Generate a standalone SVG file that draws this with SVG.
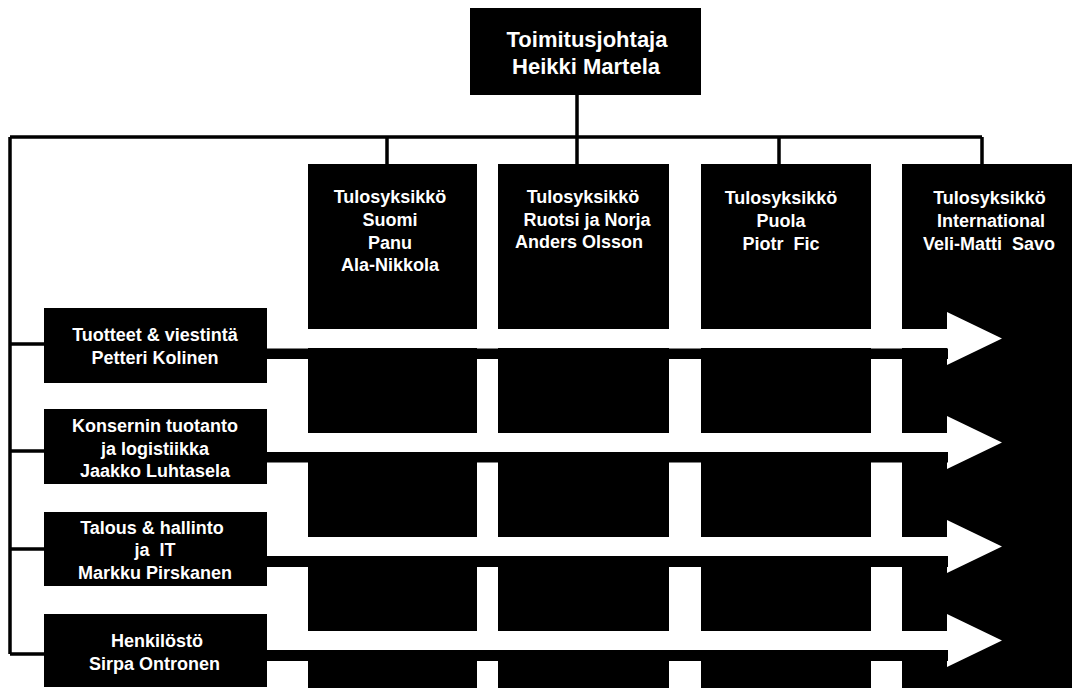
<svg xmlns="http://www.w3.org/2000/svg" width="1076" height="692" viewBox="0 0 1076 692">
<style>
.box{fill:#000}
.t{fill:#fff;font-family:"Liberation Sans",Arial,Helvetica,sans-serif;font-weight:bold;font-size:18px;text-anchor:middle}
.tb{font-size:22px}
.ln{stroke:#000;stroke-width:3.5;fill:none}
.arr{fill:#fff}
.bar{fill:#000}
</style>
<rect width="1076" height="692" fill="#fff"/>
<g id="connectors">
<path class="ln" d="M577,95V137 M10,137H982 M387,137V165 M577,137V165 M779,137V165 M982,137V165 M10,137V654 M10,344H45 M10,451H45 M10,549H45 M10,654H45"/>
</g>
<g id="col1"><rect class="box" x="308" y="164" width="169" height="524"/>
<text class="t" x="390" y="203">Tulosyksikkö</text><text class="t" x="390" y="226">Suomi</text><text class="t" x="390" y="248.5">Panu</text><text class="t" x="390" y="271">Ala-Nikkola</text></g>
<g id="col2"><rect class="box" x="498" y="164" width="171" height="524"/>
<text class="t" x="583" y="203">Tulosyksikkö</text><text class="t" x="587" y="225.5">Ruotsi ja Norja</text><text class="t" x="579" y="247.5">Anders Olsson</text></g>
<g id="col3"><rect class="box" x="701" y="164" width="170" height="524"/>
<text class="t" x="781" y="204">Tulosyksikkö</text><text class="t" x="781" y="227">Puola</text><text class="t" x="781" y="249.5" xml:space="preserve">Piotr  Fic</text></g>
<g id="col4"><rect class="box" x="902" y="164" width="170" height="524"/>
<text class="t" x="989.5" y="204">Tulosyksikkö</text><text class="t" x="991" y="227">International</text><text class="t" x="989" y="249.5" xml:space="preserve">Veli-Matti  Savo</text></g>
<g id="arrows">
<polygon class="arr" points="267,329 947,329 947,312 1002,338.5 947,365 947,348 267,348"/>
<polygon class="arr" points="267,433 947,433 947,416 1002,442.5 947,469 947,452 267,452"/>
<polygon class="arr" points="267,537 947,537 947,520 1002,546.5 947,573 947,556 267,556"/>
<polygon class="arr" points="267,631 947,631 947,614 1002,640.5 947,667 947,650 267,650"/>
<rect class="bar" x="266" y="348.5" width="682" height="10.5"/>
<rect class="bar" x="266" y="452" width="682" height="10.5"/>
<rect class="bar" x="266" y="556" width="682" height="11"/>
<rect class="bar" x="266" y="650" width="682" height="11"/>
</g>
<g id="ceo"><rect class="box" x="470" y="8" width="231" height="87"/>
<text class="t tb" x="587" y="47">Toimitusjohtaja</text><text class="t tb" x="586" y="73.5">Heikki Martela</text></g>
<g id="tuotteet"><rect class="box" x="44" y="308" width="223" height="75"/>
<text class="t" x="155" y="341">Tuotteet &amp; viestintä</text><text class="t" x="155" y="363.5">Petteri Kolinen</text></g>
<g id="tuotanto"><rect class="box" x="44" y="409" width="223" height="75"/>
<text class="t" x="155" y="432">Konsernin tuotanto</text><text class="t" x="155" y="454.5">ja logistiikka</text><text class="t" x="155" y="477">Jaakko Luhtasela</text></g>
<g id="talous"><rect class="box" x="44" y="512" width="223" height="74"/>
<text class="t" x="152" y="533.5">Talous &amp; hallinto</text><text class="t" x="155" y="556" xml:space="preserve">ja  IT</text><text class="t" x="155" y="578.5">Markku Pirskanen</text></g>
<g id="henkilosto"><rect class="box" x="44" y="614" width="223" height="73"/>
<text class="t" x="157" y="647">Henkilöstö</text><text class="t" x="154.5" y="669.5">Sirpa Ontronen</text></g>
</svg>
